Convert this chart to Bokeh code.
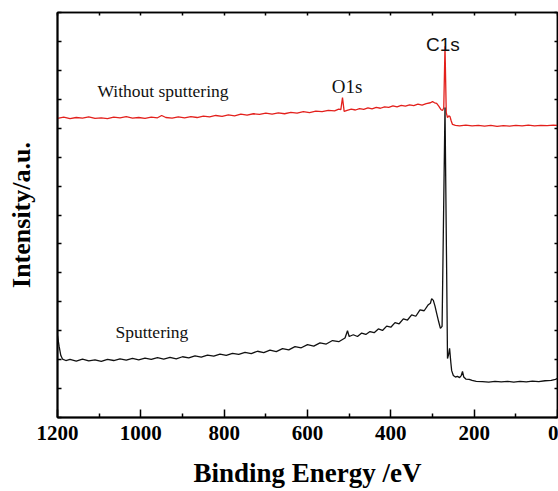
from bokeh.plotting import figure
from bokeh.models import Range1d, FixedTicker, LinearAxis, Label
from bokeh.embed import file_html
from bokeh.resources import INLINE

# Binding energy (eV) and intensity (a.u.)
red_ev = [1200, 1185, 1170, 1155, 1140, 1125, 1110, 1095, 1080, 1065, 1050, 1035, 1020, 1005,
          990, 975, 960, 950, 940, 925, 910, 895, 880, 865, 850, 835, 820, 805, 790, 775, 760,
          745, 730, 715, 700, 685, 670, 655, 640, 625, 610, 595, 580, 565, 550, 535, 525, 520,
          516, 512, 505, 495, 485, 475, 465, 455, 445, 435, 425, 415, 405, 395, 385, 375, 365,
          355, 345, 335, 325, 315, 305, 300, 295, 290, 285, 280, 276, 273, 270, 267, 264, 261,
          258, 255, 252, 245, 235, 220, 205, 190, 175, 160, 145, 130, 115, 100, 85, 70, 55, 40,
          25, 10, 0]
red_int = [10.34, 10.38, 10.33, 10.37, 10.35, 10.39, 10.34, 10.36, 10.33, 10.38, 10.36, 10.40,
           10.35, 10.37, 10.34, 10.38, 10.36, 10.44, 10.37, 10.35, 10.39, 10.36, 10.40, 10.37,
           10.42, 10.39, 10.44, 10.41, 10.46, 10.43, 10.49, 10.45, 10.50, 10.48, 10.52, 10.49,
           10.53, 10.50, 10.55, 10.52, 10.57, 10.54, 10.59, 10.57, 10.62, 10.60, 10.66, 10.64,
           11.06, 10.58, 10.62, 10.66, 10.63, 10.68, 10.65, 10.70, 10.67, 10.72, 10.69, 10.74,
           10.72, 10.77, 10.74, 10.79, 10.76, 10.81, 10.78, 10.83, 10.80, 10.85, 10.88, 10.92,
           10.88, 10.86, 10.76, 10.65, 10.61, 10.70, 12.83, 10.54, 10.37, 10.43, 10.40, 10.25,
           10.13, 10.10, 10.08, 10.11, 10.08, 10.10, 10.07, 10.10, 10.06, 10.09, 10.07, 10.10,
           10.08, 10.11, 10.08, 10.10, 10.09, 10.11, 10.10]

black_ev = [1200, 1196, 1192, 1188, 1180, 1170, 1155, 1140, 1125, 1110, 1095, 1080, 1065, 1050,
            1035, 1020, 1005, 990, 975, 960, 945, 930, 915, 900, 885, 870, 855, 840, 825, 810,
            795, 780, 765, 750, 735, 720, 705, 690, 675, 660, 645, 630, 615, 600, 585, 570, 555,
            540, 525, 510, 504, 500, 490, 480, 470, 460, 450, 440, 430, 420, 410, 400, 390, 380,
            370, 360, 350, 340, 330, 320, 310, 305, 302, 298, 294, 290, 285, 281, 277, 270, 266,
            264, 261, 259, 256, 254, 250, 245, 240, 235, 231, 228, 225, 220, 212, 205, 195, 180,
            165, 150, 135, 120, 105, 90, 75, 60, 45, 30, 15, 5, 0]
black_int = [2.83, 2.45, 2.14, 2.02, 1.97, 2.01, 1.95, 2.02, 1.96, 1.99, 1.94, 2.01, 1.97, 2.03,
             1.98, 2.04, 1.99, 2.05, 2.01, 2.07, 2.02, 2.08, 2.03, 2.10, 2.06, 2.13, 2.09, 2.16,
             2.12, 2.19, 2.15, 2.22, 2.18, 2.25, 2.21, 2.29, 2.24, 2.33, 2.28, 2.38, 2.34, 2.45,
             2.41, 2.52, 2.47, 2.58, 2.54, 2.66, 2.62, 2.75, 3.00, 2.80, 2.86, 2.80, 2.92, 2.87,
             2.97, 2.93, 3.06, 3.01, 3.16, 3.12, 3.28, 3.24, 3.41, 3.37, 3.55, 3.50, 3.72, 3.69,
             3.90, 3.95, 4.11, 4.05, 3.85, 3.60, 3.30, 3.08, 3.15, 10.72, 5.00, 2.04, 2.20, 2.39,
             1.90, 1.62, 1.45, 1.40, 1.42, 1.38, 1.45, 1.59, 1.40, 1.33, 1.32, 1.28, 1.25, 1.24,
             1.22, 1.25, 1.23, 1.25, 1.22, 1.25, 1.23, 1.26, 1.24, 1.27, 1.28, 1.32, 1.35]

x_major = [0, 200, 400, 600, 800, 1000, 1200]
x_minor = [100, 300, 500, 700, 900, 1100]
x_top = [0, 100, 200, 300, 400, 500, 600, 700, 800, 900, 1000, 1100, 1200]
y_ticks = list(range(0, 15))

SERIF = "Liberation Serif"

p = figure(width=558, height=491, x_range=Range1d(1200, 0), y_range=Range1d(0, 14),
           output_backend="svg", toolbar_location=None,
           min_border_left=57, min_border_right=1, min_border_top=12, min_border_bottom=74,
           x_axis_label="Binding Energy /eV", y_axis_label="Intensity/a.u.")
p.xgrid.visible = False
p.ygrid.visible = False
p.background_fill_color = "white"
p.border_fill_color = "white"
p.outline_line_color = "black"
p.outline_line_width = 1.5

xa = p.xaxis[0]
xa.ticker = FixedTicker(ticks=x_major, minor_ticks=x_minor)
xa.major_tick_in = 8
xa.major_tick_out = 0
xa.minor_tick_in = 4
xa.minor_tick_out = 0
xa.axis_line_width = 2
xa.major_tick_line_width = 1.5
xa.minor_tick_line_width = 1.5
xa.major_label_text_font = SERIF
xa.major_label_text_font_style = "bold"
xa.major_label_text_font_size = "21px"
xa.major_label_text_color = "black"
xa.major_label_standoff = 8
xa.axis_label_text_font = SERIF
xa.axis_label_text_font_style = "bold"
xa.axis_label_text_font_size = "27px"
xa.axis_label_text_color = "black"
xa.axis_label_standoff = 15

ya = p.yaxis[0]
ya.ticker = FixedTicker(ticks=y_ticks)
ya.major_tick_in = 4
ya.major_tick_out = 0
ya.minor_tick_in = 0
ya.minor_tick_out = 0
ya.axis_line_width = 2
ya.major_tick_line_width = 1.5
ya.major_label_overrides = {t: "" for t in y_ticks}
ya.major_label_text_font_size = "1px"
ya.major_label_standoff = 0
ya.axis_label_text_font = SERIF
ya.axis_label_text_font_style = "bold"
ya.axis_label_text_font_size = "26px"
ya.axis_label_text_color = "black"
ya.axis_label_standoff = 22

top = LinearAxis(ticker=FixedTicker(ticks=x_top), major_tick_in=3, major_tick_out=0,
                 minor_tick_in=0, minor_tick_out=0, major_label_text_font_size="1px",
                 major_label_overrides={t: "" for t in x_top},
                 major_label_standoff=0, axis_line_width=1.5, major_tick_line_width=1.5)
p.add_layout(top, "above")
right = LinearAxis(ticker=FixedTicker(ticks=y_ticks), major_tick_in=3, major_tick_out=0,
                   minor_tick_in=0, minor_tick_out=0, major_label_text_font_size="1px",
                   major_label_overrides={t: "" for t in y_ticks},
                   major_label_standoff=0, axis_line_width=1.5, major_tick_line_width=1.5)
p.add_layout(right, "right")

p.line(red_ev, red_int, line_color="#e3201c", line_width=1.3)
p.line(black_ev, black_int, line_color="#111111", line_width=1.3)

p.add_layout(Label(x=275, y=12.89, text="C1s", text_font="Liberation Sans", text_font_size="19px",
                   text_align="center", text_baseline="alphabetic", text_color="#111111"))
p.add_layout(Label(x=505, y=11.44, text="O1s", text_font=SERIF, text_font_size="19px",
                   text_align="center", text_baseline="alphabetic", text_color="#111111"))
p.add_layout(Label(x=1104, y=11.30, text="Without sputtering", text_font=SERIF,
                   text_font_size="17.5px", text_align="left", text_baseline="alphabetic",
                   text_color="#111111"))
p.add_layout(Label(x=1061, y=2.94, text="Sputtering", text_font=SERIF,
                   text_font_size="17.5px", text_align="left", text_baseline="alphabetic",
                   text_color="#111111"))

open("out.html", "w").write(file_html(p, INLINE))
